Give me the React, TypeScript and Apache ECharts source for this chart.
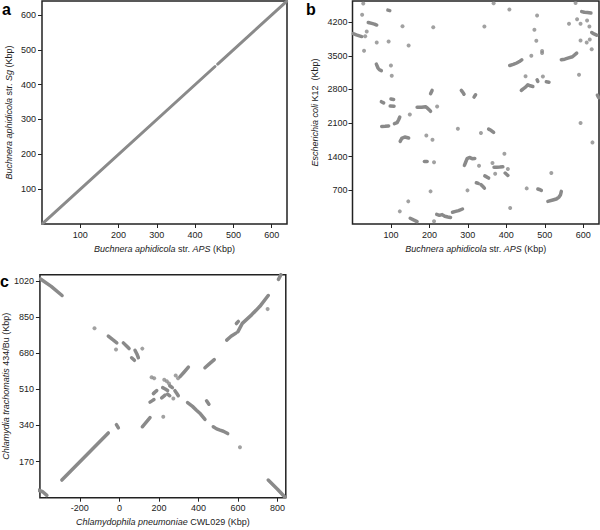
import React, { useEffect, useRef } from "react";
import * as echarts from "echarts";

// ---------- Panel a: Buchnera APS vs Sg ----------
const aXTicks = [100, 200, 300, 400, 500, 600];
const aYTicks = [100, 200, 300, 400, 500, 600];
const aSegments: number[][][] = [
  [[2, 2], [452, 452]],
  [[459, 459], [639, 639]],
];

// ---------- Panel b: Buchnera APS vs E. coli K12 ----------
const bXTicks = [100, 200, 300, 400, 500, 600];
const bYTicks = [700, 1400, 2100, 2800, 3500, 4200];
const bSegments: number[][][] = [
  [[2, 3960], [10, 3935], [18, 3915], [24, 3900]],
  [[41, 4193], [50, 4175], [57, 4160], [63, 4140]],
  [[92, 4450], [97, 4440]],
  [[62, 3326], [66, 3250], [70, 3210], [75, 3190]],
  [[75, 2545], [81, 2520]],
  [[100, 2600], [107, 2590]],
  [[98, 2455], [108, 2450]],
  [[76, 2030], [85, 2032], [94, 2040]],
  [[109, 2088], [116, 2110], [120, 2170], [123, 2225]],
  [[124, 1720], [128, 1780], [136, 1810], [146, 1790]],
  [[168, 2430], [180, 2430], [190, 2440], [195, 2410], [200, 2370], [203, 2345]],
  [[150, 120], [160, 80], [168, 50]],
  [[219, 200], [226, 180], [233, 195], [240, 160], [248, 145], [255, 135]],
  [[260, 245], [268, 262], [276, 278], [286, 312]],
  [[203, 2710], [207, 2779]],
  [[283, 2779], [287, 2740], [290, 2700]],
  [[316, 2640], [320, 2690]],
  [[354, 1975], [360, 1950], [367, 1905]],
  [[291, 1220], [294, 1280], [298, 1360], [304, 1385], [311, 1360], [318, 1365]],
  [[322, 858], [327, 845]],
  [[334, 818], [338, 790], [343, 745]],
  [[344, 1000], [349, 980], [354, 955]],
  [[368, 1180], [375, 1182], [383, 1185], [391, 1190]],
  [[397, 1060], [404, 1010]],
  [[409, 3299], [418, 3320], [427, 3350], [434, 3380], [440, 3415]],
  [[439, 2779], [443, 2807], [450, 2848], [456, 2897], [462, 2876], [469, 2862]],
  [[480, 3000], [482, 2966]],
  [[504, 2960], [511, 2950]],
  [[543, 3417], [552, 3430], [562, 3455], [572, 3480], [583, 3555]],
  [[596, 4420], [603, 4405], [611, 4400], [620, 4390]],
  [[622, 3985], [628, 3955], [635, 3929]],
  [[508, 471], [521, 499], [530, 520], [537, 561], [541, 610], [543, 679]],
  [[482, 728], [488, 712], [491, 700]],
  [[637, 2680], [640, 2630]],
  [[187, 1303], [194, 1303]],
];
const bPoints: number[][] = [
  [28, 4590], [25, 4355], [33, 3905], [37, 4005], [30, 3604], [63, 3777], [94, 3798],
  [130, 4115], [210, 4092], [146, 3715], [100, 3299], [102, 3084], [149, 2280], [220, 2446],
  [274, 1982], [192, 1843], [208, 1753], [212, 1285], [203, 679], [299, 700], [145, 471],
  [123, 263], [212, 56], [334, 1892], [367, 4595], [408, 4465], [480, 4338], [580, 4600],
  [343, 4109], [563, 4165], [584, 4262], [593, 4165], [610, 4234], [616, 4109], [473, 4040],
  [478, 3812], [493, 3600], [493, 3560], [465, 3500], [593, 3819], [609, 3777], [617, 3840],
  [622, 3638], [589, 3105], [450, 3075], [495, 3070], [593, 2100], [624, 1698], [395, 1462],
  [364, 1268], [371, 1046], [404, 1143], [329, 1213], [517, 1060], [453, 741], [410, 333],
];

// ---------- Panel c: C. pneumoniae CWL029 vs C. trachomatis 434/Bu ----------
const cXTicks = [-200, 0, 200, 400, 600, 800];
const cYTicks = [170, 340, 510, 680, 850, 1020];
const cSegments: number[][][] = [
  [[-399, 1030], [-345, 995], [-290, 952]],
  [[805, 1028], [817, 1050]],
  [[543, 742], [565, 760], [590, 775]],
  [[592, 820], [602, 830]],
  [[600, 782], [622, 821], [669, 861], [711, 901], [753, 952]],
  [[-291, 83], [-56, 305]],
  [[753, 83], [800, 40], [837, 3]],
  [[-409, 35], [-388, 28], [-367, 11]],
  [[-56, 761], [-35, 745], [-13, 729]],
  [[20, 729], [35, 715], [49, 702]],
  [[62, 659], [76, 647]],
  [[79, 694], [88, 678], [96, 659]],
  [[116, 334], [135, 355], [155, 377]],
  [[345, 448], [370, 430], [390, 412], [410, 395], [433, 369]],
  [[475, 334], [492, 324], [509, 318], [526, 313], [548, 302]],
  [[433, 612], [455, 630], [480, 650]],
  [[307, 570], [328, 592], [349, 615]],
  [[441, 456], [453, 440]],
  [[-15, 344], [-5, 329]],
  [[155, 450], [165, 456], [175, 462]],
  [[172, 490], [180, 497], [189, 504]],
  [[214, 470], [222, 476], [231, 483]],
  [[219, 518], [232, 512], [244, 505]],
  [[244, 488], [255, 480]],
  [[281, 504], [290, 492], [298, 480]],
  [[255, 527], [268, 518]],
];
const cPoints: number[][] = [
  [163, 567], [176, 562], [227, 555], [240, 548], [251, 538], [285, 575], [297, 562],
  [273, 467], [222, 381], [610, 238], [-126, 798], [-17, 698], [116, 702], [750, 888],
];

const FONT = "Liberation Sans, Arial, Helvetica, sans-serif";
const GREY = "#8a8a8a";
const INK = "#222";

function nameStyle() {
  return {
    fontSize: 9,
    color: INK,
    fontFamily: FONT,
    rich: { i: { fontStyle: "italic", fontSize: 9, color: INK, fontFamily: FONT } },
  };
}

function makeAxis(gridIndex: number, min: number, max: number, ticks: number[], name: string, nameGap: number, labelMargin: number) {
  return {
    type: "value",
    gridIndex,
    min,
    max,
    splitLine: { show: false },
    axisLine: { show: false, onZero: false },
    axisTick: { show: true, customValues: ticks, length: 4, inside: false, lineStyle: { color: INK, width: 1 } },
    axisLabel: {
      customValues: ticks,
      margin: labelMargin,
      fontSize: 9,
      color: INK,
      fontFamily: FONT,
      formatter: (v: number) => String(v),
    },
    name,
    nameLocation: "middle",
    nameGap,
    nameTextStyle: nameStyle(),
  };
}

function segSeries(segs: number[][][], idx: number, width: number) {
  return segs.map((s) => ({
    type: "line",
    xAxisIndex: idx,
    yAxisIndex: idx,
    data: s,
    showSymbol: false,
    symbol: "none",
    silent: true,
    lineStyle: { color: GREY, width, cap: "round", join: "round" },
  }));
}

function pointSeries(pts: number[][], idx: number) {
  return {
    type: "scatter",
    xAxisIndex: idx,
    yAxisIndex: idx,
    data: pts,
    symbolSize: 4,
    silent: true,
    itemStyle: { color: GREY },
  };
}

export default function App() {
  const ref = useRef<HTMLDivElement>(null);
  useEffect(() => {
    if (!ref.current) return;
    const chart = echarts.init(ref.current, null, { renderer: "svg" });
    const gridStyle = { show: true, borderColor: INK, borderWidth: 1.5, backgroundColor: "transparent", containLabel: false };
    chart.setOption({
      animation: false,
      backgroundColor: "#fff",
      grid: [
        { ...gridStyle, left: 42, top: 1, width: 245, height: 223 },
        { ...gridStyle, left: 352.5, top: 1, width: 246.5, height: 223 },
        { ...gridStyle, left: 39.3, top: 274.7, width: 246.5, height: 223 },
      ],
      xAxis: [
        makeAxis(0, 0, 640, aXTicks, "{i|Buchnera aphidicola} str. {i|APS} (Kbp)", 20, 6),
        makeAxis(1, 0, 641, bXTicks, "{i|Buchnera aphidicola} str. {i|APS} (Kbp)", 20, 6),
        makeAxis(2, -402, 842, cXTicks, "{i|Chlamydophila pneumoniae} CWL029 (Kbp)", 20, 6),
      ],
      yAxis: [
        makeAxis(0, 0, 640, aYTicks, "{i|Buchnera aphidicola} str. {i|Sg} (Kbp)", 29, 6),
        makeAxis(1, 0, 4640, bYTicks, "{i|Escherichia coli} K12  (Kbp)", 33, 5),
        makeAxis(2, 0, 1050, cYTicks, "{i|Chlamydia trachomatis} 434/Bu (Kbp)", 29, 6),
      ],
      graphic: [
        { type: "text", x: 2, y: 9, style: { text: "a", font: "bold 16px " + FONT, fill: "#000", verticalAlign: "middle" } },
        { type: "text", x: 306, y: 9, style: { text: "b", font: "bold 16px " + FONT, fill: "#000", verticalAlign: "middle" } },
        { type: "text", x: 0, y: 281, style: { text: "c", font: "bold 16px " + FONT, fill: "#000", verticalAlign: "middle" } },
      ],
      series: [
        ...segSeries(aSegments, 0, 3),
        ...segSeries(bSegments, 1, 3.5),
        pointSeries(bPoints, 1),
        ...segSeries(cSegments, 2, 3.5),
        pointSeries(cPoints, 2),
      ],
    });
    return () => chart.dispose();
  }, []);
  return <div ref={ref} style={{ position: "fixed", left: 0, top: 0, width: 600, height: 530 }} />;
}
